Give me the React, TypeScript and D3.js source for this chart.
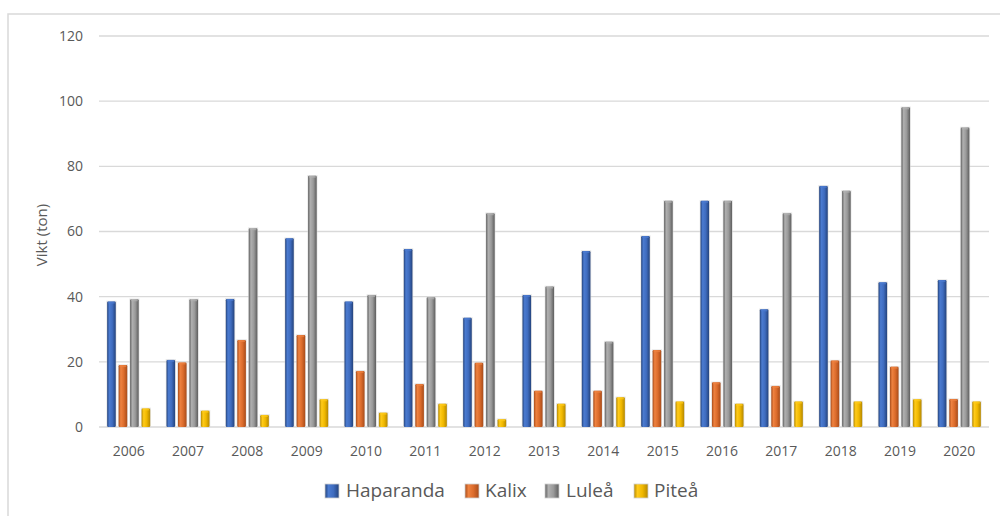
import React from "react";
import * as d3 from "d3";

const years = ["2006","2007","2008","2009","2010","2011","2012","2013","2014","2015","2016","2017","2018","2019","2020"];
const seriesNames = ["Haparanda", "Kalix", "Luleå", "Piteå"];
const haparanda = [38.5, 20.6, 39.3, 57.9, 38.5, 54.6, 33.5, 40.5, 54.0, 58.6, 69.4, 36.1, 74.0, 44.4, 45.1];
const kalix = [19.0, 19.8, 26.7, 28.2, 17.2, 13.2, 19.7, 11.1, 11.1, 23.6, 13.7, 12.6, 20.4, 18.5, 8.6];
const lulea = [39.2, 39.2, 61.0, 77.1, 40.5, 39.8, 65.6, 43.1, 26.2, 69.4, 69.4, 65.6, 72.5, 98.1, 91.9];
const pitea = [5.7, 5.0, 3.7, 8.5, 4.4, 7.1, 2.4, 7.1, 9.1, 7.8, 7.1, 7.8, 7.8, 8.5, 7.8];
const yTicks = [0, 20, 40, 60, 80, 100, 120];

const seriesValues = [haparanda, kalix, lulea, pitea];
const palettes = [
  { dark: "#24437c", mid: "#3f6cbf", light: "#4b7bd0" },
  { dark: "#a84c1a", mid: "#dc6c2c", light: "#ee8240" },
  { dark: "#5e5e5e", mid: "#9a9a9a", light: "#b0b0b0" },
  { dark: "#b58800", mid: "#f0b800", light: "#ffcb1a" },
];

const FONT = "'Open Sans', 'DejaVu Sans', sans-serif";

export default function App() {
  const W = 1000, H = 516;
  const left = 99, right = 989, top = 36, bottom = 427;
  const x0 = d3.scaleBand<string>().domain(years).range([left, right]).paddingInner(0.275).paddingOuter(0.1375);
  const x1 = d3.scaleBand<string>().domain(seriesNames).range([0, x0.bandwidth()]).paddingInner(0.25);
  const y = d3.scaleLinear().domain([0, 120]).range([bottom, top]);

  const legendItems = [
    { name: "Haparanda", sx: 325, tx: 346 },
    { name: "Kalix", sx: 465, tx: 485 },
    { name: "Luleå", sx: 545, tx: 566 },
    { name: "Piteå", sx: 634, tx: 654 },
  ];

  return (
    <svg width={W} height={H} style={{ position: "absolute", left: 0, top: 0, background: "#fff" }}>
      <defs>
        {palettes.map((p, i) => (
          <linearGradient key={i} id={`g${i}`} x1="0" x2="1" y1="0" y2="0">
            <stop offset="0%" stopColor={p.dark} />
            <stop offset="25%" stopColor={p.light} />
            <stop offset="60%" stopColor={p.mid} />
            <stop offset="100%" stopColor={p.dark} />
          </linearGradient>
        ))}
      </defs>
      <rect x={8} y={14} width={1100} height={600} fill="#fff" stroke="#d9d9d9" strokeWidth={1.5} />
      {yTicks.map((t) => (
        <g key={t}>
          <line x1={left} x2={right} y1={y(t)} y2={y(t)} stroke="#d9d9d9" strokeWidth={1.3} />
          <text x={83} y={y(t)} dy="0.35em" textAnchor="end" fontFamily={FONT} fontSize={14} fill="#595959">{t}</text>
        </g>
      ))}
      {years.map((yr, i) => (
        <g key={yr} transform={`translate(${x0(yr)},0)`}>
          {seriesNames.map((s, j) => {
            const v = seriesValues[j][i];
            const bx = x1(s)!;
            const by = y(v);
            return (
              <g key={s}>
                <rect x={bx - 0.8} y={by - 0.8} width={x1.bandwidth() + 1.6} height={bottom - by + 0.8} fill="#d6d6d6" opacity={0.6} />
                <rect x={bx} y={by} width={x1.bandwidth()} height={bottom - by} fill={`url(#g${j})`} rx={1.2} />
                <rect x={bx + 1} y={by} width={x1.bandwidth() - 2} height={2} fill={palettes[j].light} opacity={0.7} />
              </g>
            );
          })}
          <text x={x0.bandwidth() / 2} y={456} textAnchor="middle" fontFamily={FONT} fontSize={14} fill="#595959">{yr}</text>
        </g>
      ))}
      <text transform={`translate(47,235) rotate(-90)`} textAnchor="middle" fontFamily={FONT} fontSize={15} fill="#595959">Vikt (ton)</text>
      {legendItems.map((it, i) => (
        <g key={it.name}>
          <rect x={it.sx} y={484} width={14} height={14} fill={`url(#g${i})`} stroke="#cfcfcf" strokeWidth={0.8} />
          <text x={it.tx} y={497} fontFamily={FONT} fontSize={19} fill="#595959">{it.name}</text>
        </g>
      ))}
    </svg>
  );
}
